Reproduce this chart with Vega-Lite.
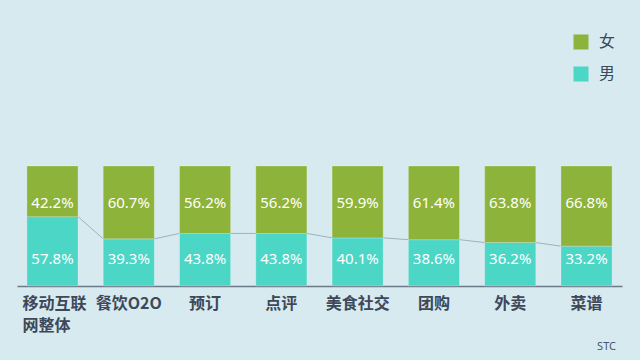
{
  "$schema": "https://vega.github.io/schema/vega-lite/v6.json",
  "width": 605,
  "height": 120,
  "autosize": {"type": "none"},
  "padding": {"left": 17, "top": 166, "right": 18, "bottom": 74},
  "background": "#d6eaf0",
  "config": {"view": {"stroke": null}},
  "title": {"text": "STC", "orient": "bottom", "anchor": "end", "fontSize": 11, "fontWeight": "normal", "font": "Noto Sans", "color": "#4a5566", "offset": 8, "dx": -6},
  "datasets": {
    "bars": [
      {"cat": "移动互联网整体", "sex": "男", "share": 0.578},
      {"cat": "移动互联网整体", "sex": "女", "share": 0.422},
      {"cat": "餐饮O2O", "sex": "男", "share": 0.393},
      {"cat": "餐饮O2O", "sex": "女", "share": 0.607},
      {"cat": "预订", "sex": "男", "share": 0.438},
      {"cat": "预订", "sex": "女", "share": 0.562},
      {"cat": "点评", "sex": "男", "share": 0.438},
      {"cat": "点评", "sex": "女", "share": 0.562},
      {"cat": "美食社交", "sex": "男", "share": 0.401},
      {"cat": "美食社交", "sex": "女", "share": 0.599},
      {"cat": "团购", "sex": "男", "share": 0.386},
      {"cat": "团购", "sex": "女", "share": 0.614},
      {"cat": "外卖", "sex": "男", "share": 0.362},
      {"cat": "外卖", "sex": "女", "share": 0.638},
      {"cat": "菜谱", "sex": "男", "share": 0.332},
      {"cat": "菜谱", "sex": "女", "share": 0.668}
    ],
    "edges": [
      {"i": 1, "cat": "移动互联网整体", "edge": "L", "share": 0.578},
      {"i": 2, "cat": "移动互联网整体", "edge": "R", "share": 0.578},
      {"i": 3, "cat": "餐饮O2O", "edge": "L", "share": 0.393},
      {"i": 4, "cat": "餐饮O2O", "edge": "R", "share": 0.393},
      {"i": 5, "cat": "预订", "edge": "L", "share": 0.438},
      {"i": 6, "cat": "预订", "edge": "R", "share": 0.438},
      {"i": 7, "cat": "点评", "edge": "L", "share": 0.438},
      {"i": 8, "cat": "点评", "edge": "R", "share": 0.438},
      {"i": 9, "cat": "美食社交", "edge": "L", "share": 0.401},
      {"i": 10, "cat": "美食社交", "edge": "R", "share": 0.401},
      {"i": 11, "cat": "团购", "edge": "L", "share": 0.386},
      {"i": 12, "cat": "团购", "edge": "R", "share": 0.386},
      {"i": 13, "cat": "外卖", "edge": "L", "share": 0.362},
      {"i": 14, "cat": "外卖", "edge": "R", "share": 0.362},
      {"i": 15, "cat": "菜谱", "edge": "L", "share": 0.332},
      {"i": 16, "cat": "菜谱", "edge": "R", "share": 0.332}
    ]
  },
  "encoding": {
    "x": {
      "field": "cat", "type": "nominal", "sort": null,
      "scale": {"paddingInner": 0.33, "paddingOuter": 0.13},
      "axis": {
        "title": null, "ticks": false, "grid": false,
        "domainColor": "#6b7888", "domainWidth": 1.5,
        "labelAngle": 0, "labelFont": "Noto Sans CJK SC", "labelFontWeight": "bold",
        "labelFontSize": 16, "labelColor": "#3e4858", "labelPadding": 9, "labelLineHeight": 22,
        "labelBaseline": "top",
        "labelExpr": "datum.value === '移动互联网整体' ? ['移动互联', '网整体'] : datum.value",
        "labelAlign": {"condition": {"test": "datum.value === '移动互联网整体'", "value": "left"}, "value": "center"},
        "labelOffset": {"condition": {"test": "datum.value === '移动互联网整体'", "value": -30}, "value": 0}
      }
    }
  },
  "resolve": {"scale": {"xOffset": "independent"}},
  "layer": [
    {
      "data": {"name": "edges"},
      "mark": {"type": "line", "color": "#9fb2bd", "strokeWidth": 1},
      "encoding": {
        "xOffset": {"field": "edge", "type": "nominal", "scale": {"type": "point", "padding": 0}},
        "y": {"field": "share", "type": "quantitative", "scale": {"domain": [0, 1]}, "axis": null},
        "order": {"field": "i", "type": "quantitative"}
      }
    },
    {
      "data": {"name": "bars"},
      "mark": {"type": "bar", "stroke": "#ffffff", "strokeOpacity": 0.25, "strokeWidth": 1},
      "encoding": {
        "y": {"field": "share", "type": "quantitative", "stack": "zero", "scale": {"domain": [0, 1]}, "axis": null},
        "color": {
          "field": "sex", "type": "nominal",
          "scale": {"domain": ["女", "男"], "range": ["#8db33a", "#4cd6c6"]},
          "legend": {
            "title": null, "orient": "none", "legendX": 556, "legendY": -132,
            "symbolType": "square", "symbolSize": 225, "symbolStrokeWidth": 0, "symbolOpacity": 1,
            "labelFont": "Noto Sans CJK SC", "labelFontSize": 16, "labelColor": "#3e4858",
            "labelOffset": 10, "rowPadding": 16, "padding": 0
          }
        },
        "order": {"field": "sex", "sort": "descending"}
      }
    },
    {
      "data": {"name": "bars"},
      "transform": [{"filter": "datum.sex === '女'"}],
      "mark": {"type": "text", "color": "#ffffff", "font": "Noto Sans", "fontSize": 15, "baseline": "middle"},
      "encoding": {
        "y": {"datum": 0.692, "type": "quantitative"},
        "text": {"field": "share", "type": "quantitative", "format": ".1%"}
      }
    },
    {
      "data": {"name": "bars"},
      "transform": [{"filter": "datum.sex === '男'"}],
      "mark": {"type": "text", "color": "#ffffff", "font": "Noto Sans", "fontSize": 15, "baseline": "middle"},
      "encoding": {
        "y": {"datum": 0.225, "type": "quantitative"},
        "text": {"field": "share", "type": "quantitative", "format": ".1%"}
      }
    }
  ]
}
